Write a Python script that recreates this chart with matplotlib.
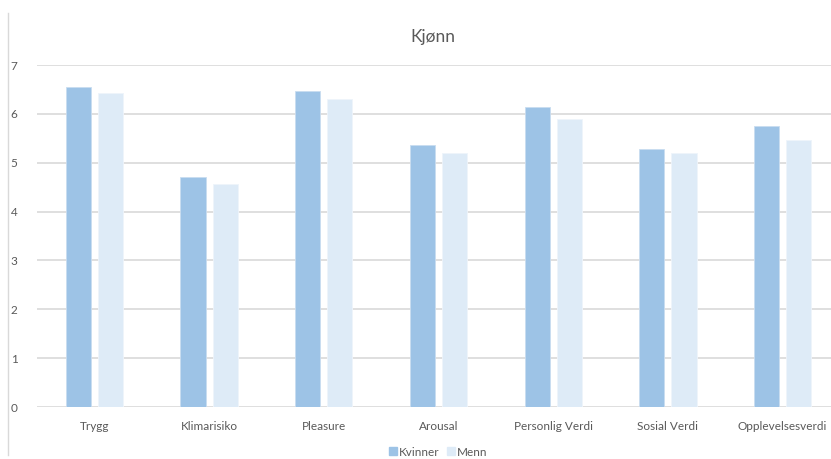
import matplotlib
matplotlib.use("Agg")
import matplotlib.pyplot as plt
import numpy as np
from matplotlib.lines import Line2D

categories = ["Trygg", "Klimarisiko", "Pleasure", "Arousal", "Personlig Verdi", "Sosial Verdi", "Opplevelsesverdi"]
kvinner = [6.55, 4.71, 6.47, 5.36, 6.14, 5.28, 5.75]
menn = [6.43, 4.56, 6.30, 5.20, 5.89, 5.20, 5.46]
series_names = ["Kvinner", "Menn"]
yticks = [0, 1, 2, 3, 4, 5, 6, 7]

plt.rcParams['font.family'] = ['Lato', 'DejaVu Sans']

W, H = 831, 459
fig = plt.figure(figsize=(W/100, H/100), dpi=100)
# axes from x=37 to 840 px, y=65 (7) to 407 (0)
ax = fig.add_axes([37/W, 1-407/H, (840-37)/W, (407-65)/H])

x = np.arange(len(categories))
bw = 0.22
c1, c2 = "#9DC3E6", "#DEEBF7"
ax.bar(x - 0.14, kvinner, bw, color=c1, edgecolor="#C9DDF0", linewidth=0.6, zorder=3)
ax.bar(x + 0.14, menn, bw, color=c2, edgecolor="#EEF4FB", linewidth=0.6, zorder=3)

ax.set_xlim(-0.5, len(categories) - 0.5)
ax.set_ylim(0, 7)
ax.set_yticks(yticks)
ax.set_xticks(x)
ax.set_xticklabels(categories)
ax.yaxis.grid(True, color="#D9D9D9", linewidth=1.2, zorder=0)
ax.set_axisbelow(True)
for s in ax.spines.values():
    s.set_visible(False)
ax.tick_params(axis='both', length=0, colors="#595959", labelsize=8.5)
ax.tick_params(axis='x', pad=10)
ax.tick_params(axis='y', pad=14)

fig.text(433/W, 1-37/H, "Kjønn", ha="center", va="center", fontsize=12.5, color="#595959")

handles = [Line2D([0], [0], marker='s', linestyle='', markersize=6, markerfacecolor=c, markeredgecolor=c) for c in (c1, c2)]
fig.legend(handles, series_names, loc="center", bbox_to_anchor=(438/W, 1-452/H), ncol=2, frameon=False,
           fontsize=8.5, labelcolor="#595959", handletextpad=0.1, columnspacing=0.6, handlelength=0.8)

fig.add_artist(Line2D([8/W, 8/W], [1-455/H, 1-13/H], color="#D9D9D9", linewidth=1, transform=fig.transFigure))

fig.savefig("out.png", dpi=100, facecolor="white")
